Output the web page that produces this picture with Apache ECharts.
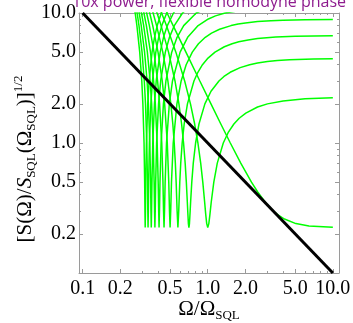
<!DOCTYPE html>
<html>
<head>
<meta charset="utf-8">
<script src="https://cdn.jsdelivr.net/npm/echarts@6/dist/echarts.min.js"></script>
<style>
  html, body { margin: 0; padding: 0; background: #ffffff; }
  #chart { width: 353px; height: 323px; }
</style>
</head>
<body>
<div id="chart"></div>
<script>
// Square-root noise spectrum for a series of fixed homodyne phases (10x power).
// Each curve is a list of [Omega/Omega_SQL, sqrt(S/S_SQL)] samples.
const homodyne0 = [[0.4317,12],[0.4729,10],[0.5288,8],[0.6691,5],[0.8645,3],[1.061,2],[1.272,1.4],[1.515,1],[1.836,0.7],[2.236,0.5],[2.508,0.42],[2.882,0.35],[3.345,0.3],[3.642,0.28],[4.106,0.26],[5.064,0.24],[6.444,0.23],[10,0.2247]];
const homodyne10 = [[0.3963,12],[0.4275,10],[0.4675,8],[0.5561,5],[0.6540,3],[0.7276,2],[0.7861,1.4],[0.8345,1],[0.8782,0.7],[0.9129,0.5],[0.9447,0.35],[0.9643,0.28],[0.9811,0.24],[1,0.2236],[1.020,0.24],[1.040,0.28],[1.066,0.35],[1.118,0.5],[1.192,0.7],[1.331,1],[1.454,1.2],[1.618,1.4],[1.784,1.55],[2.015,1.7],[2.5,1.892],[3,2.0],[4,2.108],[6,2.185],[10,2.225]];
const homodyne20 = [[0.3685,12],[0.3931,10],[0.4235,8],[0.4860,5],[0.5473,3],[0.5883,2],[0.6180,1.4],[0.6407,1],[0.6599,0.7],[0.6742,0.5],[0.6867,0.35],[0.6919,0.3],[0.7003,0.24],[0.7071,0.2236],[0.7141,0.24],[0.7235,0.3],[0.7294,0.35],[0.7454,0.5],[0.7662,0.7],[0.7996,1],[0.8507,1.4],[0.9487,2],[1.062,2.5],[1.229,3],[1.348,3.25],[1.511,3.5],[1.815,3.8],[2.162,4],[2.5,4.120],[3,4.230],[3.6,4.305],[4.5,4.368],[7,4.432],[10,4.455]];
const homodyne30 = [[0.3457,12],[0.3659,10],[0.3900,8],[0.4371,5],[0.4801,3],[0.5071,2],[0.5257,1.4],[0.5395,1],[0.5508,0.7],[0.5590,0.5],[0.5690,0.3],[0.5774,0.2236],[0.5862,0.3],[0.5976,0.5],[0.6082,0.7],[0.6245,1],[0.6480,1.4],[0.6882,2],[0.7757,3],[0.8339,3.5],[0.9076,4],[1.005,4.5],[1.143,5],[1.358,5.5],[1.565,5.8],[1.771,6],[2.1,6.205],[2.5,6.354],[3.5,6.530],[5,6.623],[10,6.690]];
const homodyne40 = [[0.3268,12],[0.3436,10],[0.3633,8],[0.4005,5],[0.4328,3],[0.4523,2],[0.4748,1],[0.4880,0.5],[0.4945,0.3],[0.5,0.2236],[0.5057,0.3],[0.5130,0.5],[0.5297,1],[0.5669,2],[0.6129,3],[0.6721,4],[0.7525,5],[0.8427,5.8],[0.9556,6.5],[1.072,7],[1.243,7.5],[1.536,8],[1.75,8.217],[2,8.388],[2.5,8.589],[3.2,8.729],[4,8.807],[6,8.885],[10,8.925]];
const homodyne50 = [[0.3106,12],[0.3249,10],[0.3415,8],[0.3718,5],[0.3972,3],[0.4121,2],[0.4289,1],[0.4385,0.5],[0.4433,0.3],[0.4472,0.2236],[0.4513,0.3],[0.4564,0.5],[0.4681,1],[0.4932,2],[0.5226,3],[0.6013,5],[0.6909,6.5],[0.8380,8],[1.012,9],[1.153,9.5],[1.375,10],[2,10.62],[4,11.04],[10,11.16]];
const homodyne60 = [[0.2966,12],[0.3090,10],[0.3232,8],[0.3485,5],[0.3692,3],[0.3810,2],[0.3942,1],[0.4016,0.5],[0.4053,0.3],[0.4082,0.2236],[0.4113,0.3],[0.4152,0.5],[0.4239,1],[0.4423,2],[0.4631,3],[0.5153,5],[0.5684,6.5],[0.6423,8],[0.8087,10],[1.256,12]];
const homodyne70 = [[0.2844,12],[0.2953,10],[0.3075,8],[0.3291,5],[0.3463,3],[0.3560,2],[0.3667,1],[0.3727,0.5],[0.3756,0.3],[0.3780,0.2236],[0.3804,0.3],[0.3835,0.5],[0.3903,1],[0.4045,2],[0.4203,3],[0.4581,5],[0.4942,6.5],[0.5404,8],[0.6288,10],[0.7823,12]];
const homodyne80 = [[0.2735,12],[0.2832,10],[0.2939,8],[0.3126,5],[0.3273,3],[0.3354,2],[0.3443,1],[0.3492,0.5],[0.3516,0.3],[0.3536,0.2236],[0.3556,0.3],[0.3581,0.5],[0.3636,1],[0.3750,2],[0.3874,3],[0.4165,5],[0.4430,6.5],[0.4754,8],[0.5323,10],[0.6162,12]];
const homodyne90 = [[0.2638,12],[0.2725,10],[0.2820,8],[0.2984,5],[0.3110,3],[0.3180,2],[0.3255,1],[0.3297,0.5],[0.3317,0.3],[0.3333,0.2236],[0.3350,0.3],[0.3371,0.5],[0.3417,1],[0.3511,2],[0.3613,3],[0.3845,5],[0.4051,6.5],[0.4294,8],[0.4699,10],[0.5246,12]];
const homodyne100 = [[0.2551,12],[0.2629,10],[0.2714,8],[0.2859,5],[0.2970,3],[0.3030,2],[0.3096,1],[0.3131,0.5],[0.3148,0.3],[0.3162,0.2236],[0.3177,0.3],[0.3194,0.5],[0.3234,1],[0.3313,2],[0.3398,3],[0.3588,5],[0.3754,6.5],[0.3946,8],[0.4253,10],[0.4645,12]];
// Standard quantum limit reference line
const sqlLine = [[0.1,10],[10,0.1]];

const xMajorTicks = [0.1, 0.2, 0.5, 1, 2, 5, 10];
const xMinorTicks = [0.3, 0.4, 0.6, 0.7, 0.8, 0.9, 3, 4, 6, 7, 8, 9];
const yMajorTicks = [0.2, 0.5, 1, 2, 5, 10];
const yMinorTicks = [0.3, 0.4, 0.6, 0.7, 0.8, 0.9, 3, 4, 6, 7, 8, 9];

const titleText = '10x power, flexible homodyne phase';

const X_MIN = 0.0935, X_MAX = 11.2, Y_MIN = 0.1, Y_MAX = 10;
const FRAME = '#9a9a9a';
const SERIF = '"Liberation Serif", "Times New Roman", serif';
const fmt = v => Number(v).toFixed(1);

function axis(kind, position, ticks, len, withLine, withLabels) {
  const isX = kind === 'x';
  return {
    type: 'log', logBase: 10,
    min: isX ? X_MIN : Y_MIN, max: isX ? X_MAX : Y_MAX,
    position: position,
    axisLine: { show: withLine, lineStyle: { color: FRAME, width: 1 } },
    axisTick: { show: true, inside: true, length: len, customValues: ticks,
                lineStyle: { color: FRAME, width: 1 } },
    axisLabel: withLabels ? {
      show: true, customValues: ticks, formatter: fmt,
      fontFamily: SERIF, fontSize: 20, color: '#000', margin: isX ? 6 : 3
    } : { show: false },
    splitLine: { show: false },
    minorTick: { show: false },
    minorSplitLine: { show: false }
  };
}

const green = data => ({
  type: 'line', data: data, xAxisIndex: 0, yAxisIndex: 0,
  showSymbol: false, smooth: false, clip: true, silent: true,
  lineStyle: { color: '#00ff00', width: 1.5 }
});

const chart = echarts.init(document.getElementById('chart'), null, { renderer: 'canvas' });
chart.setOption({
  animation: false,
  backgroundColor: '#ffffff',
  grid: { left: 79, right: 14, top: 13, bottom: 50, containLabel: false, outerBoundsMode: 'none' },
  xAxis: [
    axis('x', 'bottom', xMajorTicks, 4, true, true),
    axis('x', 'bottom', xMinorTicks, 2, false, false),
    axis('x', 'top', xMajorTicks, 4, true, false),
    axis('x', 'top', xMinorTicks, 2, false, false)
  ],
  yAxis: [
    axis('y', 'left', yMajorTicks, 4, true, true),
    axis('y', 'left', yMinorTicks, 2, false, false),
    axis('y', 'right', yMajorTicks, 4, true, false),
    axis('y', 'right', yMinorTicks, 2, false, false)
  ],
  series: [
    green(homodyne0), green(homodyne10), green(homodyne20), green(homodyne30),
    green(homodyne40), green(homodyne50), green(homodyne60), green(homodyne70),
    green(homodyne80), green(homodyne90), green(homodyne100),
    { type: 'line', data: sqlLine, showSymbol: false, clip: true, silent: true,
      lineStyle: { color: '#000000', width: 3 } }
  ],
  graphic: [
    { type: 'text', x: 209, y: 2, silent: true,
      style: { text: titleText, font: '16px "Open Sans"', fill: '#8e1c8e',
               textAlign: 'center', textVerticalAlign: 'middle' } },
    { type: 'text', x: 209, y: 309, silent: true,
      style: { text: '{m|Ω/Ω}{s|SQL}', textAlign: 'center', textVerticalAlign: 'middle',
               rich: {
                 m: { fontFamily: SERIF, fontSize: 21, lineHeight: 26, fill: '#000' },
                 s: { fontFamily: SERIF, fontSize: 13, lineHeight: 13, verticalAlign: 'bottom', fill: '#000' }
               } } },
    { type: 'text', x: 25, y: 159, rotation: Math.PI / 2, silent: true,
      style: { text: '{m|[S(Ω)/}{i|S}{s|SQL}{m|(Ω}{s|SQL}{m|)]}{p|1/2}', textAlign: 'center', textVerticalAlign: 'middle',
               rich: {
                 m: { fontFamily: SERIF, fontSize: 21, lineHeight: 26, fill: '#000' },
                 i: { fontFamily: SERIF, fontSize: 21, lineHeight: 26, fontStyle: 'italic', fill: '#000' },
                 s: { fontFamily: SERIF, fontSize: 13, lineHeight: 13, verticalAlign: 'bottom', fill: '#000' },
                 p: { fontFamily: SERIF, fontSize: 13, lineHeight: 13, verticalAlign: 'top', fill: '#000' }
               } } }
  ]
});
</script>
</body>
</html>
